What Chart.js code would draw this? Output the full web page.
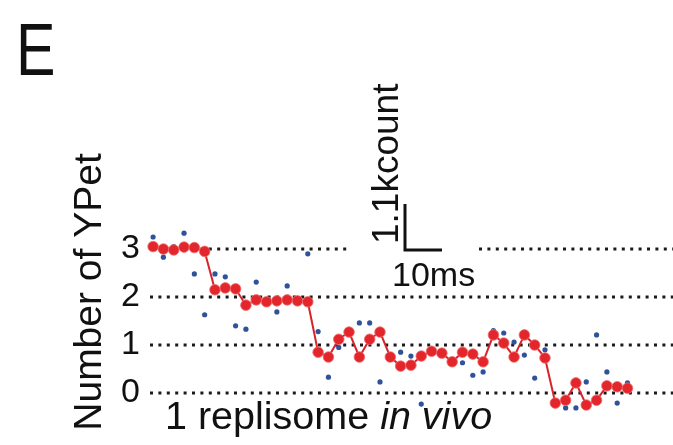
<!DOCTYPE html>
<html>
<head>
<meta charset="utf-8">
<script src="https://cdn.jsdelivr.net/npm/chart.js@4.4.0/dist/chart.umd.min.js"></script>
<style>
  html, body { margin: 0; padding: 0; background: #fff; }
  #caja { width: 673px; height: 445px; }
</style>
</head>
<body>
<div id="caja"><canvas id="graficoYPet" width="673" height="445"></canvas></div>
<script>
// Número de fotograma (eje x, sin escala visible)
const fotogramas = [0, 1, 2, 3, 4, 5, 6, 7, 8, 9, 10, 11, 12, 13, 14, 15,
    16, 17, 18, 19, 20, 21, 22, 23, 24, 25, 26, 27, 28, 29, 30, 31,
    32, 33, 34, 35, 36, 37, 38, 39, 40, 41, 42, 43, 44, 45, 46];

// Señal filtrada (puntos rojos unidos por línea)
const filtrado = [3.05, 3.00, 2.98, 3.04, 3.03, 2.95, 2.15, 2.19, 2.17, 1.83,
    1.94, 1.90, 1.92, 1.94, 1.92, 1.90, 0.85, 0.75, 1.12, 1.27,
    0.75, 1.12, 1.27, 0.75, 0.56, 0.58, 0.77, 0.87, 0.83, 0.65,
    0.85, 0.81, 0.65, 1.21, 1.04, 0.75, 1.21, 1.00, 0.73, -0.21,
    -0.15, 0.21, -0.25, -0.15, 0.15, 0.13, 0.10];

// Señal cruda (puntos azules)
const crudo = [3.25, 2.83, 3.05, 3.33, 2.48, 1.63, 2.48, 2.42, 1.40, 1.33,
    2.31, 1.95, 1.69, 2.23, 1.90, 2.90, 1.28, 0.33, 0.95, 1.25,
    1.46, 1.46, 0.23, 0.80, 0.85, 0.77, -0.23, 0.85, 0.85, 0.70,
    0.63, 0.37, 0.44, 1.30, 1.25, 1.06, 0.79, 0.31, 0.90, -0.20,
    -0.31, -0.31, 0.23, 1.21, 0.44, -0.21, 0.21];

// Marcas del eje y
const nivelesY = [0, 1, 2, 3];
const etiquetasY = ['0', '1', '2', '3'];

const FUENTE = "'Liberation Sans', Arial, sans-serif";

// Hueco de la línea punteada de 3 (donde va la barra de escala), en fotogramas
const HUECO_DESDE = 18.9;
const HUECO_HASTA = 31.6;

/**
 * Líneas punteadas horizontales en cada nivel entero.
 */
const lineasPunteadas = {
    id: 'lineasPunteadas',
    beforeDatasetsDraw(chart) {
        const { ctx, chartArea, scales } = chart;
        const x0 = chartArea.left;
        const x1 = chart.width;
        ctx.save();
        ctx.strokeStyle = '#1a1a1a';
        ctx.lineWidth = 3;
        ctx.setLineDash([3, 5.4]);
        nivelesY.forEach(v => {
            const y = Math.round(scales.y.getPixelForValue(v));
            ctx.beginPath();
            if (v === 3) {
                const g0 = scales.x.getPixelForValue(HUECO_DESDE);
                const g1 = scales.x.getPixelForValue(HUECO_HASTA);
                ctx.moveTo(x0, y); ctx.lineTo(g0, y);
                ctx.moveTo(g1, y); ctx.lineTo(x1, y);
            } else {
                ctx.moveTo(x0, y); ctx.lineTo(x1, y);
            }
            ctx.stroke();
        });
        ctx.restore();
    }
};

/**
 * Textos sueltos: letra del panel, título del eje, barra de escala, leyenda.
 */
const textos = {
    id: 'textos',
    afterDraw(chart) {
        const { ctx } = chart;
        ctx.save();
        ctx.fillStyle = '#111';
        ctx.textBaseline = 'alphabetic';

        // Letra del panel (algo estrecha, como en la figura)
        ctx.save();
        ctx.translate(16, 75);
        ctx.scale(0.8, 1);
        ctx.font = `74px ${FUENTE}`;
        ctx.textAlign = 'left';
        ctx.fillText('E', 0, 0);
        ctx.restore();

        // Título del eje y (rotado)
        ctx.save();
        ctx.translate(101, 292);
        ctx.rotate(-Math.PI / 2);
        ctx.font = `39px ${FUENTE}`;
        ctx.textAlign = 'center';
        ctx.fillText('Number of YPet', 0, 0);
        ctx.restore();

        // Barra de escala
        ctx.strokeStyle = '#111';
        ctx.lineWidth = 3;
        ctx.beginPath();
        ctx.moveTo(405, 204);
        ctx.lineTo(405, 250);
        ctx.lineTo(442, 250);
        ctx.stroke();

        ctx.save();
        ctx.translate(398, 244);
        ctx.rotate(-Math.PI / 2);
        ctx.font = `37px ${FUENTE}`;
        ctx.textAlign = 'left';
        ctx.fillText('1.1kcount', 0, 0);
        ctx.restore();

        ctx.font = `34px ${FUENTE}`;
        ctx.textAlign = 'left';
        ctx.fillText('10ms', 392, 286);

        // Leyenda inferior
        ctx.font = `39.5px ${FUENTE}`;
        const parte1 = '1 replisome ';
        ctx.fillText(parte1, 165, 429);
        const w1 = ctx.measureText(parte1).width;
        ctx.font = `italic 39.5px ${FUENTE}`;
        ctx.fillText('in vivo', 165 + w1, 429);
        ctx.restore();
    }
};

const ctx = document.getElementById('graficoYPet').getContext('2d');

new Chart(ctx, {
    type: 'line',
    data: {
        datasets: [
            {
                label: 'filtrado',
                data: fotogramas.map((f, i) => ({ x: f, y: filtrado[i] })),
                borderColor: '#d8232a',
                borderWidth: 2,
                backgroundColor: '#e2262b',
                pointBorderColor: 'rgba(240, 110, 110, 0.8)',
                pointBorderWidth: 1,
                pointRadius: 5.3,
                tension: 0,
                clip: false
            },
            {
                label: 'crudo',
                data: fotogramas.map((f, i) => ({ x: f, y: crudo[i] })),
                showLine: false,
                backgroundColor: '#2f529a',
                borderColor: '#2f529a',
                pointRadius: 2.6,
                pointBorderWidth: 0,
                clip: false
            }
        ]
    },
    options: {
        responsive: false,
        animation: false,
        layout: { padding: { left: 0, top: 201, right: 0, bottom: 36 } },
        plugins: {
            legend: { display: false },
            tooltip: { enabled: false }
        },
        scales: {
            x: { type: 'linear', min: -0.3, max: 49.8, display: false },
            y: {
                min: -0.3333,
                max: 4,
                afterBuildTicks: (scale) => {
                    scale.ticks = nivelesY.map(v => ({ value: v }));
                },
                afterFit: (scale) => { scale.width = 150; },
                grid: { display: false, drawTicks: false },
                border: { display: false },
                ticks: {
                    color: '#111',
                    padding: 10,
                    font: { size: 34, family: FUENTE },
                    callback: (v) => etiquetasY[nivelesY.indexOf(v)]
                }
            }
        }
    },
    plugins: [lineasPunteadas, textos]
});
</script>
</body>
</html>
